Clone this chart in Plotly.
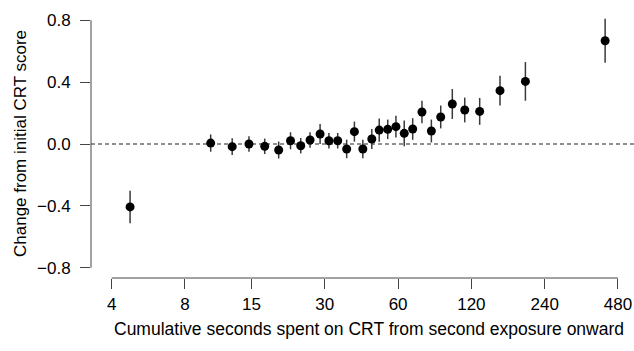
import plotly.graph_objects as go

# Data
seconds = [4.76, 10.2, 12.5, 14.65, 17.0, 19.4, 21.7, 23.9, 26.1, 28.7,
           31.2, 33.9, 36.9, 39.7, 43.0, 46.8, 50.2, 54.4, 58.8, 63.6,
           68.9, 75.2, 82.2, 89.8, 100.2, 112.7, 129.8, 157.3, 200.0, 425.0]
change = [-0.407, 0.006, -0.017, 0.0, -0.015, -0.039, 0.021, -0.011, 0.026, 0.065,
          0.021, 0.021, -0.032, 0.08, -0.032, 0.032, 0.09, 0.095, 0.112, 0.069,
          0.097, 0.207, 0.084, 0.175, 0.259, 0.22, 0.211, 0.345, 0.405, 0.668]
err = [0.105, 0.056, 0.054, 0.05, 0.05, 0.055, 0.055, 0.05, 0.05, 0.065,
       0.05, 0.05, 0.06, 0.065, 0.06, 0.065, 0.075, 0.063, 0.07, 0.083,
       0.07, 0.073, 0.074, 0.074, 0.097, 0.08, 0.087, 0.096, 0.125, 0.142]

x_ticks = [4, 8, 15, 30, 60, 120, 240, 480]
x_ticktext = ["4", "8", "15", "30", "60", "120", "240", "480"]
y_ticks = [-0.8, -0.4, 0.0, 0.4, 0.8]
y_ticktext = ["\u22120.8", "\u22120.4", "0.0", "0.4", "0.8"]

FONT = "Liberation Sans, Arial, sans-serif"
AX = "#444444"
FS = 17

fig = go.Figure()
fig.add_trace(go.Scatter(
    x=seconds, y=change, mode="markers",
    marker=dict(color="black", size=9),
    error_y=dict(type="data", array=err, visible=True, width=0,
                 thickness=1.5, color="#3a3a3a"),
    showlegend=False,
))

fig.update_layout(
    width=634, height=351,
    margin=dict(l=91, r=0, t=10, b=73),
    plot_bgcolor="white", paper_bgcolor="white",
    font=dict(family=FONT, size=FS, color="black"),
    xaxis=dict(type="log", range=[0.5171, 2.7470],
               tickvals=x_ticks, ticktext=x_ticktext,
               ticks="outside", ticklen=10, tickcolor=AX, tickwidth=1,
               ticklabelstandoff=1,
               showline=False, showgrid=False, zeroline=False,
               tickfont=dict(size=FS)),
    yaxis=dict(range=[-0.8668, 0.8668],
               tickvals=y_ticks, ticktext=y_ticktext,
               ticks="outside", ticklen=10, tickcolor=AX, tickwidth=1,
               ticklabelstandoff=6,
               showline=False, showgrid=False, zeroline=False,
               tickfont=dict(size=FS)),
    shapes=[
        dict(type="line", xref="paper", yref="y", x0=0, x1=0, y0=-0.8, y1=0.8,
             line=dict(color=AX, width=1)),
        dict(type="line", xref="x", yref="paper", x0=4, x1=480, y0=0, y1=0,
             line=dict(color=AX, width=1)),
        dict(type="line", xref="paper", yref="y", x0=0, x1=1, y0=0, y1=0,
             line=dict(color="#222222", width=1, dash="4px,3px"), layer="below"),
    ],
    annotations=[
        dict(text="Cumulative seconds spent on CRT from second exposure onward",
             xref="paper", yref="paper", x=(369 - 91) / 543, y=0, yshift=-51,
             xanchor="center", yanchor="middle", showarrow=False,
             font=dict(size=17.5)),
        dict(text="Change from initial CRT score",
             xref="paper", yref="paper", x=(20 - 91) / 543, y=0.5,
             xanchor="center", yanchor="middle", textangle=-90, showarrow=False,
             font=dict(size=FS)),
    ],
)

fig.write_html("out.html", config={"displayModeBar": False},
               post_script="document.body.style.margin='0';document.body.style.overflow='hidden';")
